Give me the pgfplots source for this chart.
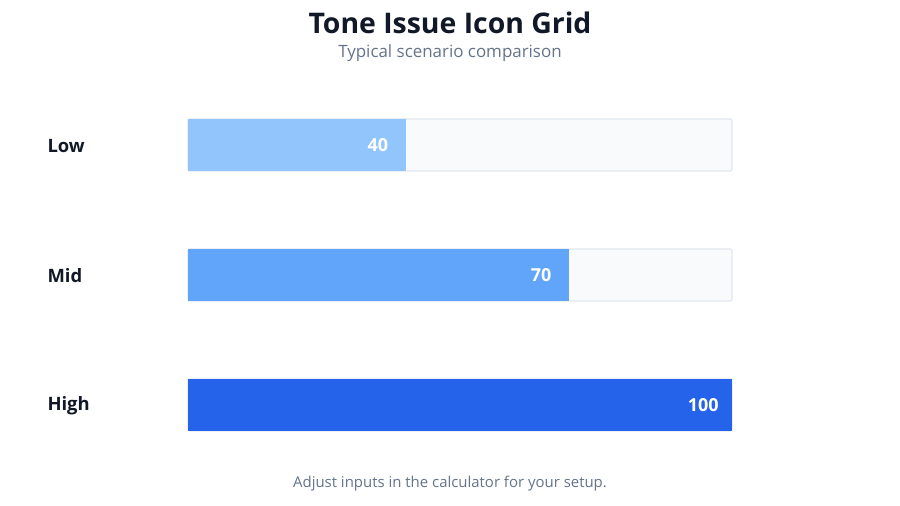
\documentclass[border=0pt]{standalone}
\usepackage{pgfplots}
\pgfplotsset{compat=1.18}
\usepackage{fontspec}
\setmainfont{Open Sans}
\definecolor{cLow}{HTML}{93C5FD}
\definecolor{cMid}{HTML}{60A5FA}
\definecolor{cHigh}{HTML}{2563EB}
\definecolor{track}{HTML}{F8FAFC}
\definecolor{trackedge}{HTML}{E2E8F0}
\definecolor{dark}{HTML}{111827}
\definecolor{muted}{HTML}{64748B}
\begin{document}
\begin{tikzpicture}[x=1bp,y=1bp]
\path[use as bounding box, fill=white] (0,0) rectangle (900,506);
\begin{axis}[
  at={(188bp,36bp)}, anchor=south west,
  width=544bp, height=390bp, scale only axis,
  xmin=0, xmax=100, ymin=-0.5, ymax=2.5,
  axis lines=none, clip=false,
  xbar, bar width=0.4, bar shift=0pt,
  ytick=\empty, xtick=\empty,
  /pgf/number format/assume math mode=true,
  nodes near coords style={anchor=east, text=white, font=\fontsize{18}{20}\selectfont\bfseries},
]
\addplot[fill=track, draw=trackedge, line width=1.2bp, rounded corners=1.5bp] coordinates {(100,0) (100,1) (100,2)};
\addplot[fill=cLow, draw=none, nodes near coords, nodes near coords style={xshift=-14bp}] coordinates {(40,2)};
\addplot[fill=cMid, draw=none, nodes near coords, nodes near coords style={xshift=-14bp}] coordinates {(70,1)};
\addplot[fill=cHigh, draw=none, nodes near coords, nodes near coords style={xshift=-10bp}] coordinates {(100,0)};
\end{axis}
\node[anchor=west, text=dark, font=\fontsize{18.5}{20}\selectfont\bfseries] at (44,360) {Low};
\node[anchor=west, text=dark, font=\fontsize{18.5}{20}\selectfont\bfseries] at (44,230) {Mid};
\node[anchor=west, text=dark, font=\fontsize{18.5}{20}\selectfont\bfseries] at (44,100) {High};
\node[text=dark, font=\fontsize{28.5}{32}\selectfont\bfseries] at (450,483) {Tone Issue Icon Grid};
\node[text=muted, font=\fontsize{17}{20}\selectfont] at (450,452.5) {Typical scenario comparison};
\node[text=muted, font=\fontsize{15}{18}\selectfont] at (450,22.5) {Adjust inputs in the calculator for your setup.};
\end{tikzpicture}
\end{document}
